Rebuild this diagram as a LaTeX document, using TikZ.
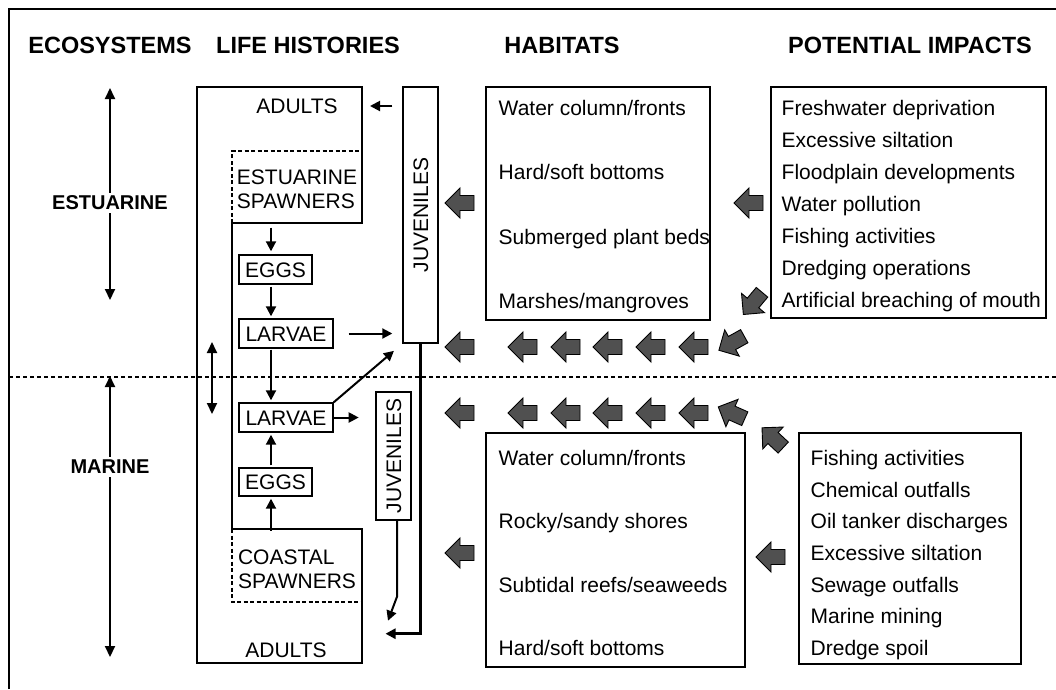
\documentclass[tikz,border=0pt]{standalone}
\usepackage{fontspec}
\setmainfont{Liberation Sans}
\usetikzlibrary{arrows.meta}
\definecolor{agray}{RGB}{80,80,80}
\begin{document}
\begin{tikzpicture}[x=1pt,y=-1pt,line width=1.4pt,
  box/.style={draw, inner sep=0pt},
  lbl/.style={font=\fontsize{21}{24}\selectfont, inner sep=0pt, text height=15pt, text depth=0pt},
  hdr/.style={font=\bfseries\fontsize{23.5}{28}\selectfont, inner sep=0pt},
  arr/.style={-{Triangle[length=10pt,width=10pt]}, line width=2pt},
  darr/.style={{Triangle[length=11pt,width=10pt]}-{Triangle[length=11pt,width=10pt]}, line width=2pt},
  barrow/.pic={\draw[fill=agray, line width=0.9pt, line join=miter] (-15,0) -- (0,-15) -- (0,-7.5) -- (14,-7.5) -- (14,7.5) -- (0,7.5) -- (0,15) -- cycle;}
]
\useasboundingbox (0,0) rectangle (1056,689);
% frame
\draw[line width=1.2pt] (9,689) -- (9,9) -- (1056,9);
% headers
\node[hdr] (hEco) at (110,45) {ECOSYSTEMS};
\node[hdr] (hLife) at (308,45) {LIFE HISTORIES};
\node[hdr] (hHab) at (562,45) {HABITATS};
\node[hdr] (hImp) at (910,45) {POTENTIAL IMPACTS};
% dashed separator
\draw[dashed, dash pattern=on 4pt off 3pt, line width=1.4pt] (9,377) -- (1056,377);
% ecosystem arrows
\coordinate (eT) at (110,88); \coordinate (eB) at (110,300);
\coordinate (mT) at (110,376); \coordinate (mB) at (110,657);
\coordinate (sT) at (212,342); \coordinate (sB) at (212,414);
\draw[darr] (eT) -- (eB);
\draw[darr] (mT) -- (mB);
\draw[darr] (sT) -- (sB);
\node[hdr, font=\bfseries\fontsize{20}{24}\selectfont, fill=white, inner sep=3pt] (est) at (110,203) {ESTUARINE};
\node[hdr, font=\bfseries\fontsize{20}{24}\selectfont, fill=white, inner sep=3pt] (mar) at (110,467) {MARINE};
% life-history outline
\draw (197,87) -- (362,87) -- (362,223) -- (232,223) -- (232,529) -- (362,529) -- (362,663) -- (197,663) -- cycle;
\draw[dashed, dash pattern=on 4pt off 2.5pt, line width=1.1pt] (232,223) -- (232,151) -- (362,151);
\draw[dashed, dash pattern=on 4pt off 2.5pt, line width=1.1pt] (232,529) -- (232,602) -- (362,602);
\coordinate (lifeR) at (362,87);
\node[lbl] (adultsT) at (297,106) {ADULTS};
\node[lbl] (adultsB) at (286,650) {ADULTS};
\node[font=\fontsize{21}{24}\selectfont, inner sep=0pt, minimum width=130pt, minimum height=72pt, align=left] (spawE) at (297,189) {ESTUARINE\\SPAWNERS};
\node[font=\fontsize{21}{24}\selectfont, inner sep=0pt, minimum width=130pt, minimum height=73pt, align=left] (spawM) at (297,569) {COASTAL\\SPAWNERS};
\node[box, lbl, draw, minimum width=73pt, minimum height=29pt] (eggsE) at (275.5,269.5) {EGGS};
\node[box, lbl, draw, minimum width=94pt, minimum height=29pt] (larvE) at (286,333.5) {LARVAE};
\node[box, lbl, draw, minimum width=94pt, minimum height=29pt] (larvM) at (286,417.5) {LARVAE};
\node[box, lbl, draw, minimum width=73pt, minimum height=28pt] (eggsM) at (275.5,482) {EGGS};
\node[box, lbl, draw, minimum width=256pt, minimum height=35pt, rotate=90] (juvE) at (420.5,215) {JUVENILES};
\node[box, lbl, draw, minimum width=128pt, minimum height=35pt, rotate=90] (juvM) at (393.5,456) {JUVENILES};
% life-history connectors
\draw[arr, shorten <=10pt, shorten >=8pt] (juvE.north |- adultsT) -- (adultsT -| lifeR);
\draw[arr, shorten <=2pt, shorten >=3pt] ([xshift=-4.5pt]eggsE.north |- spawE.south) -- ([xshift=-4.5pt]eggsE.north);
\draw[arr, shorten <=2pt, shorten >=2pt] ([xshift=-4.5pt]eggsE.south) -- ([xshift=-4.5pt]eggsE.south |- larvE.north);
\draw[arr, shorten <=1pt, shorten >=2pt] ([xshift=-15pt]larvE.south) -- ([xshift=-15pt]larvM.north);
\draw[arr, shorten <=15pt, shorten >=10pt] (larvE.east) -- (juvE.north |- larvE.east);
\draw[arr, shorten >=11pt] (larvM.north east) -- (juvE.north west);
\draw[arr] (larvM.east) -- ++(25,0);
\draw[arr, shorten <=1pt, shorten >=2pt] ([xshift=-4.5pt]eggsM.south |- spawM.north) -- ([xshift=-4.5pt]eggsM.south);
\draw[arr, shorten <=2pt, shorten >=2pt] ([xshift=-4.5pt]eggsM.north) -- ([xshift=-4.5pt]eggsM.north |- larvM.south);
\draw[arr] ([xshift=3.5pt]juvM.west) -- ++(0,76) -- ++(-9,24);
\draw[arr, line width=2.6pt] (juvE.west) -- ++(0,290) -- ++(-35,0);
% habitat and impact boxes
\node[box, minimum width=224pt, minimum height=233pt] (habE) at (598,203.5) {};
\node[box, minimum width=275pt, minimum height=231pt] (impE) at (908.5,202.5) {};
\node[box, minimum width=259pt, minimum height=234pt] (habM) at (615.5,550) {};
\node[box, minimum width=222pt, minimum height=231pt] (impM) at (910,548.5) {};
\node[lbl, anchor=west] (hE1) at (498,108) {Water column/fronts};
\node[lbl, anchor=west] (hE2) at (498,172) {Hard/soft bottoms};
\node[lbl, anchor=west] (hE3) at (498,237) {Submerged plant beds};
\node[lbl, anchor=west] (hE4) at (498,301) {Marshes/mangroves};
\node[lbl, anchor=west] (iE1) at (781,108) {Freshwater deprivation};
\node[lbl, anchor=west] (iE2) at (781,140) {Excessive siltation};
\node[lbl, anchor=west] (iE3) at (781,172) {Floodplain developments};
\node[lbl, anchor=west] (iE4) at (781,204) {Water pollution};
\node[lbl, anchor=west] (iE5) at (781,236) {Fishing activities};
\node[lbl, anchor=west] (iE6) at (781,268) {Dredging operations};
\node[lbl, anchor=west] (iE7) at (781,300) {Artificial breaching of mouth};
\node[lbl, anchor=west] (hM1) at (498,458) {Water column/fronts};
\node[lbl, anchor=west] (hM2) at (498,521) {Rocky/sandy shores};
\node[lbl, anchor=west] (hM3) at (498,585) {Subtidal reefs/seaweeds};
\node[lbl, anchor=west] (hM4) at (498,648) {Hard/soft bottoms};
\node[lbl, anchor=west] (iM1) at (810,458) {Fishing activities};
\node[lbl, anchor=west] (iM2) at (810,490) {Chemical outfalls};
\node[lbl, anchor=west] (iM3) at (810,521) {Oil tanker discharges};
\node[lbl, anchor=west] (iM4) at (810,553) {Excessive siltation};
\node[lbl, anchor=west] (iM5) at (810,585) {Sewage outfalls};
\node[lbl, anchor=west] (iM6) at (810,616) {Marine mining};
\node[lbl, anchor=west] (iM7) at (810,648) {Dredge spoil};
% block arrows
\foreach \xx in {460,523,566,608,651,694} {
  \pic at (\xx,347) {barrow};
  \pic at (\xx,413) {barrow};
}
\pic[rotate=29] at (732,343) {barrow};
\pic[rotate=-24] at (732,413) {barrow};
\pic[rotate=50] at (753,303) {barrow};
\pic[rotate=-43] at (773,438) {barrow};
\pic at (460,203) {barrow};
\pic at (749,203) {barrow};
\pic at (460,553) {barrow};
\pic at (771,557) {barrow};
\end{tikzpicture}
\end{document}
